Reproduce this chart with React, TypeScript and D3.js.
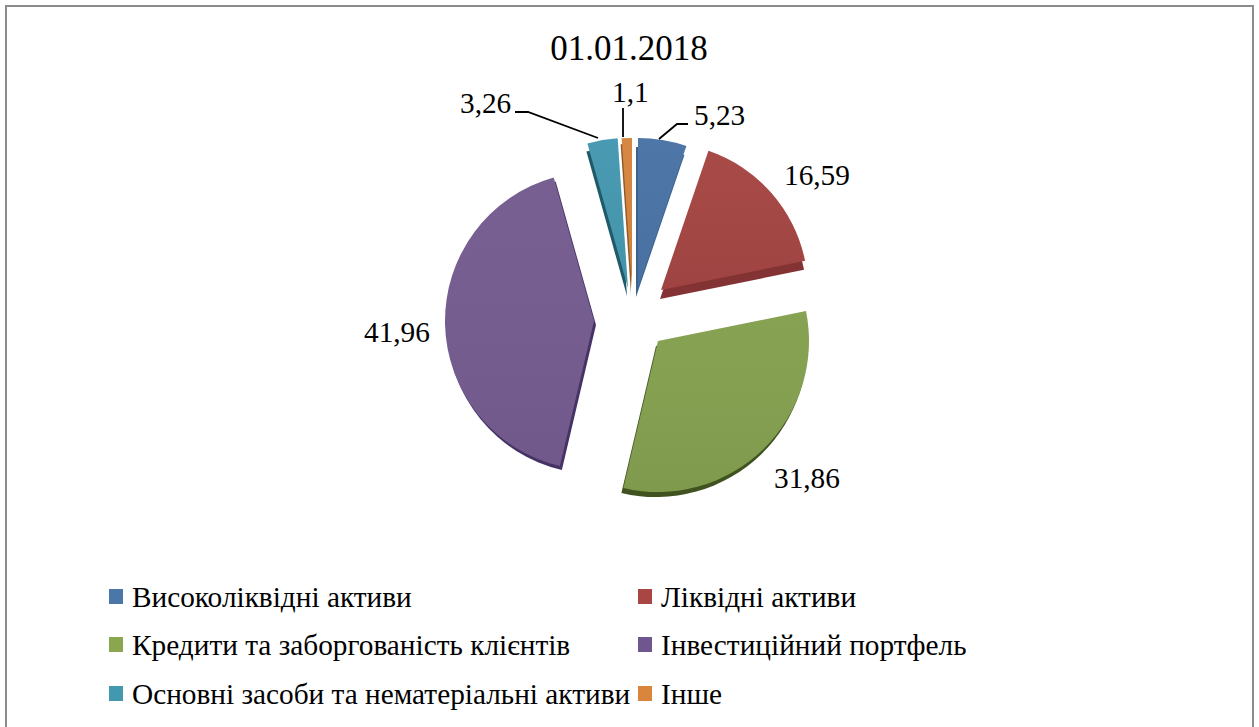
import React from "react";
import * as d3 from "d3";

const chartTitle = "01.01.2018";
const categories = [
  "Високоліквідні активи",
  "Ліквідні активи",
  "Кредити та заборгованість клієнтів",
  "Інвестиційний портфель",
  "Основні засоби та нематеріальні активи",
  "Інше",
];
const shares = [5.23, 16.59, 31.86, 41.96, 3.26, 1.1];
const valueLabels = ["5,23", "16,59", "31,86", "41,96", "3,26", "1,1"];

const faceColors = ["#4a74a6", "#a54644", "#84a04f", "#755c90", "#4598b0", "#d5853f"];
const sideColors = ["#3c6290", "#843335", "#3f5220", "#453366", "#1f5a68", "#8f5a2a"];
const legendColors = ["#4a76a8", "#a84644", "#8aa64e", "#70568f", "#4198af", "#d9853b"];

const WIDTH = 1259;
const HEIGHT = 727;
const CENTER = [634, 316];
const FONT = "'Liberation Serif', 'Times New Roman', serif";

// Each slice's pull-out from the pie centre, its radius, and the offset of its extruded side.
const pullOut = [[4, -28], [27, -26], [24, 25], [-40, 5], [-6, -28], [-2, -28]];
const radii = [150, 147, 151, 149, 150, 150];
const extrude = [[-2, 9], [-1, 9], [-2, 5], [2, 4], [-1, 8], [-1, 6]];

// Text anchors (left edge, baseline) for the value labels.
const labelAnchors = [[694, 125], [784, 185], [774, 488], [364, 342], [460, 113], [612, 102]];

// Leader polylines for the three narrow slices.
const leaders = [
  [[659, 139], [677, 124], [688, 124]],
  [[598, 138], [528, 112], [515, 112]],
  [[623, 137], [623, 108]],
];

const legendColumns = [109, 638];
const legendRows = [589, 637, 686];

export default function App() {
  const slices = d3.pie<number>().sort(null).value((d) => d)(shares);
  const arc = d3.arc<d3.PieArcDatum<number>>().innerRadius(0);
  const line = d3.line();

  return (
    <svg
      width={WIDTH}
      height={HEIGHT}
      viewBox={`0 0 ${WIDTH} ${HEIGHT}`}
      style={{ position: "absolute", left: 0, top: 0, background: "#fff" }}
      fontFamily={FONT}
    >
      <defs>
        <linearGradient id="faceShade" x1="0" y1="0" x2="0" y2="1">
          <stop offset="0" stopColor="#fff" stopOpacity={0.02} />
          <stop offset="1" stopColor="#000" stopOpacity={0.04} />
        </linearGradient>
      </defs>

      {/* Chart frame: open at the bottom */}
      <path d="M6 727V6H1253V727" fill="none" stroke="#8c8c8c" strokeWidth={2} />

      <text x={629} y={60} textAnchor="middle" fontSize={35} fill="#000">
        {chartTitle}
      </text>

      {slices.map((s, i) => {
        const x = CENTER[0] + pullOut[i][0];
        const y = CENTER[1] + pullOut[i][1];
        const path = arc.outerRadius(radii[i])(s) as string;
        return (
          <g key={categories[i]} transform={`translate(${x},${y})`}>
            <path d={path} transform={`translate(${extrude[i][0]},${extrude[i][1]})`} fill={sideColors[i]} />
            <path d={path} fill={faceColors[i]} />
            <path d={path} fill="url(#faceShade)" />
          </g>
        );
      })}

      {leaders.map((pts, i) => (
        <path key={i} d={line(pts as [number, number][]) as string} fill="none" stroke="#000" strokeWidth={1.8} />
      ))}

      {valueLabels.map((label, i) => (
        <text key={label} x={labelAnchors[i][0]} y={labelAnchors[i][1]} fontSize={29.3} fill="#000">
          {label}
        </text>
      ))}

      {categories.map((name, i) => {
        const lx = legendColumns[i % 2];
        const ly = legendRows[Math.floor(i / 2)];
        return (
          <g key={name}>
            <rect x={lx} y={ly} width={14} height={15} fill={legendColors[i]} />
            <text x={lx + 23} y={ly + 18} fontSize={29.3} fill="#000">
              {name}
            </text>
          </g>
        );
      })}
    </svg>
  );
}
